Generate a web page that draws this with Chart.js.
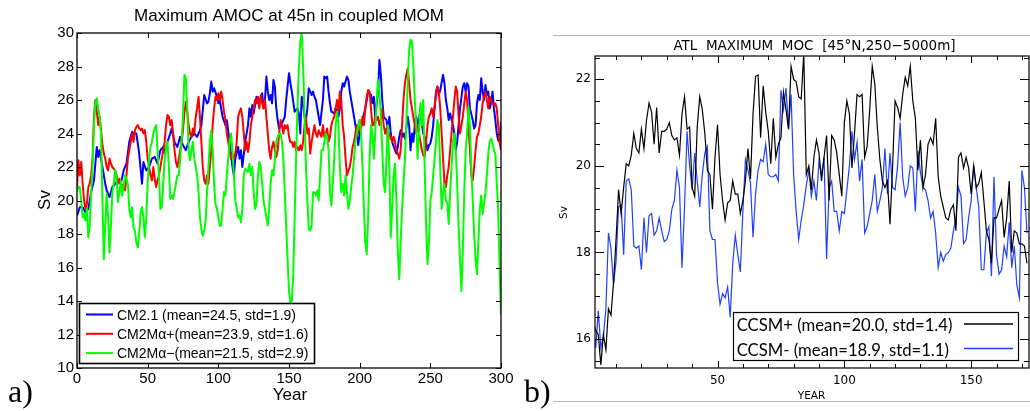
<!DOCTYPE html>
<html><head><meta charset="utf-8">
<script src="https://cdn.jsdelivr.net/npm/chart.js@4.4.1/dist/chart.umd.min.js"></script>
<style>
html,body{margin:0;padding:0;background:#fff}
body{width:1030px;height:411px;overflow:hidden;position:relative}
#wa{position:absolute;left:0;top:0;width:520px;height:411px}
#wb{position:absolute;left:520px;top:0;width:510px;height:411px}
.lab{position:absolute;font-family:"Liberation Serif","DejaVu Serif",serif;font-size:32px;line-height:32px;color:#000}
.hl{position:absolute;left:553px;width:477px;height:1px;background:#b9b9b9}
</style></head>
<body>
<div id="wa"><canvas id="ca" width="520" height="411"></canvas></div>
<div id="wb"><canvas id="cb" width="510" height="411"></canvas></div>
<div class="hl" style="top:35px"></div>
<div class="hl" style="top:401px"></div>
<div class="lab" style="left:8px;top:375px">a)</div>
<div class="lab" style="left:524px;top:375px">b)</div>
<script>
// ---------------- Panel a data ----------------
const titleA = 'Maximum AMOC at 45n in coupled MOM';
const xTitleA = 'Year', yTitleA = 'Sv';
const xTicksA = [0,50,100,150,200,250,300];
const yTicksA = [10,12,14,16,18,20,22,24,26,28,30];
const labelsA = ['CM2.1 (mean=24.5, std=1.9)','CM2M\u03b1+(mean=23.9, std=1.6)','CM2M\u03b1\u2212(mean=21.5, std=2.9)'];
// CM2.1 : [year, Sv]
const cm21 = [[0,19.1],[2,19.6],[4,19.6],[6,19.3],[8,19.5],[10,20.5],[12,21.2],[14,23.2],[15,22.6],[16,23.0],[18,22.0],[20,21.0],[21,20.6],[23,20.2],[25,20.8],[27,21.0],[29,21.2],[31,21.0],[33,21.8],[35,22.2],[37,23.5],[39,24.1],[40,24.0],[42,24.0],[44,22.8],[46,21.0],[47,22.3],[49,21.8],[51,22.0],[53,22.5],[55,22.6],[57,22.2],[59,23.0],[61,23.2],[62,22.8],[64,23.5],[66,24.0],[67,24.3],[69,23.5],[71,23.2],[73,23.8],[75,23.3],[77,23.0],[79,23.5],[81,23.8],[83,24.0],[85,23.8],[87,24.2],[88,24.5],[90,26.3],[92,25.8],[93,25.9],[94,26.4],[95,27.1],[96,26.5],[97,26.7],[99,26.2],[100,25.8],[101,26.0],[103,25.0],[105,24.5],[106,24.8],[108,23.5],[110,22.0],[111,21.5],[112,22.5],[114,23.2],[115,22.5],[116,23.0],[117,22.0],[119,23.5],[121,24.5],[122,25.5],[123,25.0],[124,25.7],[125,25.2],[127,26.2],[128,25.8],[130,26.0],[131,26.4],[132,25.5],[133,26.0],[134,27.4],[135,26.5],[136,26.0],[137,26.3],[138,25.8],[139,27.2],[140,26.8],[141,25.5],[142,24.8],[143,24.3],[145,24.6],[147,25.0],[148,26.0],[149,26.8],[150,27.6],[151,27.0],[152,26.5],[154,25.3],[156,25.5],[157,25.2],[158,24.0],[159,26.2],[160,25.8],[161,25.0],[162,24.8],[163,25.5],[164,26.7],[165,26.5],[166,26.3],[167,26.5],[168,26.2],[169,26.0],[171,25.0],[172,24.5],[174,26.0],[175,27.4],[176,27.3],[177,27.4],[178,26.5],[179,25.8],[180,25.3],[182,25.2],[183,25.5],[185,25.0],[186,25.5],[187,26.5],[188,27.0],[189,26.8],[191,27.4],[192,27.2],[193,26.5],[195,25.5],[197,24.5],[198,24.0],[199,23.3],[200,24.0],[202,24.8],[204,25.5],[205,26.0],[206,26.5],[208,26.3],[209,25.8],[210,26.2],[211,25.0],[212,25.8],[213,26.5],[214,28.4],[215,27.5],[216,26.0],[217,25.0],[219,24.8],[220,24.2],[221,25.0],[222,24.0],[223,23.5],[225,23.0],[226,22.8],[227,23.2],[228,23.8],[229,24.2],[230,23.8],[231,24.0],[232,23.7],[233,24.3],[234,25.0],[235,24.5],[236,23.0],[237,24.0],[238,23.5],[239,24.5],[240,25.0],[241,24.5],[242,24.8],[243,25.5],[244,24.6],[245,24.0],[247,23.5],[248,23.0],[249,23.3],[250,23.4],[251,23.8],[252,24.5],[253,25.5],[254,26.5],[255,26.8],[256,26.3],[257,26.6],[259,27.5],[260,27.0],[261,26.0],[262,25.5],[263,24.8],[264,25.2],[266,24.5],[267,24.0],[268,23.0],[269,23.5],[270,24.5],[271,25.5],[273,26.8],[274,27.0],[275,26.5],[276,27.0],[277,26.8],[278,25.5],[280,24.8],[281,24.3],[282,24.5],[283,25.8],[284,26.3],[285,26.0],[286,27.3],[287,26.5],[288,26.0],[289,26.9],[290,26.3],[291,26.5],[292,25.5],[293,25.8],[294,26.5],[295,25.5],[296,24.8],[297,24.0],[298,23.6],[299,23.5],[300,24.7]];
// annual years 0..300
const yearsA = Array.from({length:301}, (_, i) => i);
const cm2mPlus = [
20.8,22.4,21.5,22.3,21.0,20.0,19.5,19.8,20.8,21.0,
21.5,22.5,25.0,26.0,25.3,24.5,25.0,24.2,23.3,22.8,
22.5,22.0,21.8,22.5,22.2,22.0,21.9,21.8,21.5,21.0,
21.3,21.0,20.8,21.0,20.6,21.5,22.5,23.0,23.5,24.0,
23.5,24.2,24.4,24.5,24.3,24.2,24.3,24.0,24.2,23.5,
22.5,22.0,21.5,21.2,22.0,21.3,20.8,21.2,21.5,22.0,
22.5,23.0,23.5,24.5,25.1,25.0,24.5,24.8,24.0,23.0,
22.3,22.0,22.5,23.0,23.5,24.2,25.2,25.9,25.3,24.5,
24.0,23.8,24.3,24.0,25.0,25.5,26.2,25.0,23.5,22.0,
21.2,21.0,21.5,21.0,22.0,23.0,24.5,25.5,26.2,26.0,
26.4,26.0,26.5,26.0,25.3,24.8,24.0,23.5,23.0,22.5,
22.7,22.5,22.8,23.5,25.0,25.3,25.5,25.0,24.0,23.0,
23.5,22.9,23.5,24.5,25.0,25.5,26.0,25.8,26.2,25.5,
26.3,25.8,25.5,26.0,25.0,24.0,23.0,22.5,23.2,23.5,
23.0,22.6,23.0,24.0,24.8,24.5,24.0,24.5,24.3,24.5,
23.8,23.5,23.5,23.2,23.5,23.0,23.2,23.0,23.3,23.0,
23.5,24.5,25.0,24.0,24.3,22.8,23.5,24.0,24.5,24.0,
23.8,24.2,24.0,23.8,24.5,23.8,24.0,24.3,23.5,23.8,
24.5,24.8,25.0,25.5,26.0,25.3,26.5,26.0,24.5,23.8,
22.5,21.5,21.8,22.0,22.5,23.2,23.5,24.0,24.5,24.0,
24.8,24.3,25.0,24.5,25.5,26.2,26.6,26.5,25.5,24.5,
24.5,25.0,24.8,25.0,24.5,24.8,25.5,24.5,24.0,24.3,
23.5,24.0,23.8,23.5,23.8,23.5,23.0,22.8,22.5,23.0,
24.5,26.0,27.0,27.5,27.9,27.0,26.0,25.5,25.0,24.5,
24.0,24.5,24.0,23.5,23.0,22.7,22.6,23.5,24.5,25.0,
25.2,25.5,25.0,25.6,26.3,26.8,26.5,25.5,24.0,22.5,
21.0,20.8,21.5,22.0,23.0,24.0,25.0,26.0,26.8,26.5,
25.0,24.0,24.5,25.0,25.8,26.5,26.0,24.5,23.0,21.5,
21.2,22.0,23.0,23.8,24.0,24.5,25.0,25.8,26.2,26.5,
26.0,25.5,26.2,26.0,25.8,25.7,25.8,25.5,24.5,23.5,
23.0];
const cm2mMinus = [
20.6,20.8,20.8,20.0,19.0,19.2,18.8,19.5,17.8,18.5,
20.5,22.0,24.5,25.8,26.1,25.5,25.0,24.0,20.0,16.5,
18.5,20.4,19.0,16.9,18.5,20.5,21.0,21.8,21.3,19.9,
20.5,21.2,20.3,20.8,21.5,21.3,21.0,19.5,19.0,19.6,
18.3,18.2,17.5,17.2,18.0,19.3,19.6,19.0,17.8,19.0,
21.0,22.5,23.2,23.5,24.0,24.3,24.5,23.0,21.5,19.5,
19.6,21.0,22.5,23.2,23.5,22.0,20.1,20.3,20.1,20.5,
21.0,21.5,21.5,22.5,23.5,25.0,27.5,27.3,25.5,23.0,
22.4,23.0,23.5,22.5,22.0,21.5,20.5,19.0,18.3,17.9,
18.2,18.8,20.5,22.0,23.5,24.2,23.0,21.0,19.8,19.5,
19.0,18.5,18.5,19.5,20.5,20.3,21.5,22.5,23.5,24.0,
23.0,21.5,20.0,19.5,19.0,19.1,18.7,19.5,21.5,21.9,
21.8,21.7,22.2,21.5,22.0,20.5,19.5,19.8,21.5,22.3,
22.0,21.0,20.0,19.5,19.0,18.5,19.5,21.0,21.8,21.5,
22.5,23.5,23.8,24.0,24.0,23.5,22.5,20.5,18.5,16.5,
14.6,13.9,14.0,15.5,19.0,22.5,25.5,28.0,29.5,30.0,
28.0,25.0,22.0,20.0,18.3,18.2,18.5,20.5,20.5,20.3,
20.6,20.0,21.5,23.0,23.0,23.5,24.0,23.8,23.0,20.5,
19.7,21.0,22.5,24.5,25.3,24.5,22.0,20.5,21.0,20.3,
21.5,20.5,19.5,20.0,20.8,21.5,22.5,23.5,24.0,24.5,
24.8,24.0,22.0,19.5,17.5,16.8,19.0,22.5,24.5,24.0,
22.5,24.0,26.0,27.2,26.5,25.0,23.0,21.0,20.5,22.5,
24.5,22.0,17.8,19.5,21.5,22.2,20.0,17.0,15.3,17.5,
19.5,21.0,22.5,24.5,27.0,29.0,29.6,29.5,28.0,26.0,
24.5,22.5,24.0,25.8,24.5,26.0,22.0,18.5,16.2,17.5,
20.0,20.5,21.5,22.5,23.5,24.8,24.5,22.0,19.5,20.5,
21.0,20.0,19.8,18.6,20.5,22.0,23.5,24.0,23.0,21.0,
18.5,16.5,14.6,17.0,20.5,23.0,24.0,25.6,24.5,22.0,
20.0,18.0,16.5,15.6,17.5,19.5,20.3,19.2,19.8,20.5,
21.5,22.8,23.5,23.7,23.4,23.0,22.8,21.0,19.5,16.0,
13.2];

// ---------------- Panel b data ----------------
const titleB = 'ATL  MAXIMUM  MOC  [45\u00b0N,250\u22125000m]';
const xTitleB = 'YEAR', yTitleB = 'Sv';
const xTicksB = [50,100,150];
const xMinorB = [10,20,30,40,60,70,80,90,110,120,130,140,160,170];
const yTicksB = [16,18,20,22];
const yMinorB = [15.5,16.5,17,17.5,18.5,19,19.5,20.5,21,21.5,22.5];
const labelsB = ['CCSM+ (mean=20.0, std=1.4)','CCSM- (mean=18.9, std=1.1)'];
const yearsB = Array.from({length:172}, (_, i) => i + 1);
const ccsmPlus = [
16.4,16.2,16.1,15.4,16.1,15.75,16.7,16.55,17.3,18.3,
19.45,18.9,19.5,20.05,20.0,20.25,20.75,20.4,20.3,20.85,
20.4,21.05,21.45,21.25,20.5,21.35,20.3,20.8,20.8,20.85,
21.0,20.7,20.6,20.65,20.25,21.2,21.6,20.85,20.9,19.5,
19.3,20.9,21.6,21.3,20.75,19.9,19.8,19.0,20.2,20.95,
19.8,19.2,18.75,19.15,19.2,19.65,19.35,19.35,18.9,19.2,
19.65,20.4,19.7,21.2,22.07,22.1,20.65,21.85,21.25,20.8,
20.05,21.1,20.2,20.5,20.65,21.7,21.3,20.85,22.3,22.0,
21.95,21.6,21.55,22.6,19.8,20.0,19.45,20.2,20.6,20.3,
19.65,20.2,20.7,19.2,20.7,20.6,20.3,19.8,19.3,21.0,
21.5,21.2,19.95,20.75,21.65,21.6,21.65,20.2,20.45,21.3,
22.3,21.9,20.9,20.15,19.65,19.5,19.65,18.65,19.95,21.5,
21.35,21.1,21.65,22.05,21.85,22.3,21.5,21.1,19.9,20.6,
19.5,19.8,20.5,20.65,20.5,21.1,19.75,19.3,19.05,18.8,
18.75,19.0,19.1,18.5,20.2,20.3,19.95,20.2,19.95,19.35,
20.0,19.5,19.6,19.85,19.2,18.5,18.3,17.75,18.8,18.8,
19.0,19.2,18.35,18.8,19.65,18.0,18.5,18.45,18.2,18.2,
18.15,17.75];
const ccsmMinus = [
16.3,15.8,16.65,15.8,16.05,16.7,18.45,18.1,17.25,17.8,
19.05,19.1,17.95,19.65,19.7,19.45,18.15,18.1,18.15,17.6,
18.8,18.0,18.85,18.9,18.4,18.5,18.8,18.5,18.25,18.3,
18.5,19.0,19.2,19.9,19.5,17.65,19.05,20.8,20.0,19.45,
20.3,19.65,19.05,19.8,20.3,20.45,18.5,18.3,18.3,17.3,
16.8,17.05,16.95,17.2,16.5,17.75,18.4,17.95,17.55,18.95,
20.15,19.9,19.6,18.35,19.35,19.9,20.15,20.1,20.5,19.8,
19.75,19.75,19.8,19.65,21.75,21.3,21.8,20.85,21.65,19.8,
18.95,18.3,18.75,19.1,19.55,19.9,19.3,19.65,19.2,20.1,
19.8,20.2,17.85,19.5,19.65,18.95,18.95,18.5,18.95,18.9,
19.45,20.0,20.8,20.15,20.55,19.65,20.15,18.45,18.6,18.9,
19.2,19.8,18.95,19.2,19.5,20.4,19.35,20.3,19.5,19.45,
20.0,21.0,19.75,19.3,19.5,20.0,19.95,18.95,20.35,19.85,
19.5,19.45,19.2,18.8,18.95,18.45,17.65,18.0,17.8,17.95,
18.0,18.1,18.5,18.8,19.5,19.3,18.2,18.3,18.8,19.2,
20.0,19.5,19.05,17.6,17.6,18.45,18.6,17.45,19.75,17.95,
17.5,17.6,18.15,17.9,18.7,17.65,18.15,17.25,16.95,19.9,
19.5,18.45];

// ---------------- helpers ----------------
const toXY = (xs, ys) => xs.map((x, i) => ({x, y: ys[i]}));
function seg(ctx, x1, y1, x2, y2){ ctx.beginPath(); ctx.moveTo(x1, y1); ctx.lineTo(x2, y2); ctx.stroke(); }
const FA = '"Liberation Sans", Arial, Helvetica, sans-serif';
const FB = '"DejaVu Sans", Verdana, sans-serif';

// ---------------- Panel a ----------------
const plugA = {
  id: 'plugA',
  afterDraw(chart){
    const {ctx, chartArea: ca, scales: {x, y}} = chart;
    ctx.save();
    ctx.strokeStyle = '#000'; ctx.lineWidth = 1;
    xTicksA.forEach(v => { const p = Math.round(x.getPixelForValue(v)) + 0.5; seg(ctx, p, ca.bottom, p, ca.bottom - 5); seg(ctx, p, ca.top, p, ca.top + 5); });
    yTicksA.forEach(v => { const p = Math.round(y.getPixelForValue(v)) + 0.5; seg(ctx, ca.left, p, ca.left + 5, p); seg(ctx, ca.right, p, ca.right - 5, p); });
    ctx.lineWidth = 1.3;
    ctx.strokeRect(ca.left, ca.top, ca.right - ca.left, ca.bottom - ca.top);
    // legend
    const lx = ca.left + 2, ly = 303, lw = 236, lh = 61;
    ctx.fillStyle = '#fff'; ctx.fillRect(lx, ly, lw, lh);
    ctx.lineWidth = 1.6; ctx.strokeRect(lx + 0.5, ly + 0.5, lw - 1, lh - 1);
    ctx.font = '14px ' + FA; ctx.textAlign = 'left'; ctx.textBaseline = 'alphabetic';
    chart.data.datasets.forEach((ds, i) => {
      const yy = ly + 11.5 + i * 19.3;
      ctx.strokeStyle = ds.borderColor; ctx.lineWidth = 2;
      seg(ctx, lx + 7, yy, lx + 34, yy);
      ctx.fillStyle = '#000';
      ctx.fillText(ds.label, lx + 38, yy + 5);
    });
    // titles
    ctx.fillStyle = '#000'; ctx.textAlign = 'center';
    ctx.font = '17px ' + FA;
    ctx.fillText(titleA, (ca.left + ca.right) / 2, 21);
    ctx.fillText(xTitleA, (ca.left + ca.right) / 2 + 1, 400);
    ctx.translate(50, 200); ctx.rotate(-Math.PI / 2);
    ctx.fillText(yTitleA, 0, 0);
    ctx.restore();
  }
};

new Chart(document.getElementById('ca'), {
  type: 'line',
  data: { datasets: [
    { label: labelsA[0], data: cm21.map(p => ({x: p[0], y: p[1]})), borderColor: '#0000ff', borderWidth: 2, pointRadius: 0, order: 2, borderJoinStyle: 'round' },
    { label: labelsA[1], data: toXY(yearsA, cm2mPlus), borderColor: '#ff0000', borderWidth: 2, pointRadius: 0, order: 1, borderJoinStyle: 'round' },
    { label: labelsA[2], data: toXY(yearsA, cm2mMinus), borderColor: '#00ff00', borderWidth: 2, pointRadius: 0, order: 0, borderJoinStyle: 'round' }
  ]},
  options: {
    responsive: false, animation: false, events: [],
    layout: { padding: { left: 0, right: 19, top: 33, bottom: 0 } },
    plugins: { legend: { display: false }, tooltip: { enabled: false }, title: { display: false } },
    scales: {
      x: { type: 'linear', min: 0, max: 300,
        afterBuildTicks: s => { s.ticks = xTicksA.map(v => ({value: v})); },
        afterFit: s => { s.height = 43; s.paddingLeft = 0; s.paddingRight = 0; },
        grid: { display: false, drawTicks: false }, border: { display: false },
        ticks: { color: '#000', font: { family: FA, size: 15 }, padding: 2, maxRotation: 0, autoSkip: false } },
      y: { type: 'linear', min: 10, max: 30,
        afterBuildTicks: s => { s.ticks = yTicksA.map(v => ({value: v})); },
        afterFit: s => { s.width = 77; s.paddingTop = 0; s.paddingBottom = 0; },
        grid: { display: false, drawTicks: false }, border: { display: false },
        ticks: { color: '#000', font: { family: FA, size: 15 }, padding: 3, autoSkip: false } }
    }
  },
  plugins: [plugA]
});

// ---------------- Panel b ----------------
const plugB = {
  id: 'plugB',
  afterDraw(chart){
    const {ctx, chartArea: ca, scales: {x, y}} = chart;
    ctx.save();
    ctx.strokeStyle = '#000'; ctx.lineWidth = 1;
    const xt = (v, len) => { const p = Math.round(x.getPixelForValue(v)) + 0.5; seg(ctx, p, ca.bottom, p, ca.bottom - len); seg(ctx, p, ca.top, p, ca.top + len); };
    const yt = (v, len) => { const p = Math.round(y.getPixelForValue(v)) + 0.5; seg(ctx, ca.left, p, ca.left + len, p); seg(ctx, ca.right, p, ca.right - len, p); };
    xTicksB.forEach(v => xt(v, 7)); xMinorB.forEach(v => xt(v, 4));
    yTicksB.forEach(v => yt(v, 9)); yMinorB.forEach(v => yt(v, 5));
    ctx.lineWidth = 1.2;
    ctx.strokeRect(ca.left, ca.top, ca.right - ca.left, ca.bottom - ca.top);
    // legend
    const lx = 213.5, ly = 312.5, lw = 285, lh = 48;
    ctx.fillStyle = '#fff'; ctx.fillRect(lx, ly, lw, lh);
    ctx.lineWidth = 1.2; ctx.strokeRect(lx, ly, lw, lh);
    ctx.textAlign = 'left'; ctx.textBaseline = 'alphabetic';
    ctx.font = '18px Lato, "Open Sans", sans-serif';
    const fs = 18 * 216 / ctx.measureText(labelsB[0]).width;
    ctx.font = fs.toFixed(2) + 'px Lato, "Open Sans", sans-serif';
    chart.data.datasets.forEach((ds, i) => {
      const yy = ly + 11.5 + i * 24.5;
      ctx.fillStyle = '#000';
      ctx.fillText(ds.label, lx + 3.2, yy + 7);
      ctx.strokeStyle = ds.borderColor; ctx.lineWidth = 1.3;
      seg(ctx, lx + 230.5, yy, lx + 279.5, yy);
    });
    // titles
    ctx.fillStyle = '#000'; ctx.textAlign = 'center';
    ctx.font = '13.5px ' + FB;
    ctx.fillText(titleB, 294.5, 50);
    ctx.font = '10.5px ' + FB;
    ctx.fillText(xTitleB, 291.5, 399);
    ctx.translate(46.5, 212.5); ctx.rotate(-Math.PI / 2);
    ctx.fillText(yTitleB, 0, 0);
    ctx.restore();
  }
};

new Chart(document.getElementById('cb'), {
  type: 'line',
  data: { datasets: [
    { label: labelsB[0], data: toXY(yearsB, ccsmPlus), borderColor: '#000000', borderWidth: 1.2, pointRadius: 0 },
    { label: labelsB[1], data: toXY(yearsB, ccsmMinus), borderColor: '#2040ff', borderWidth: 1.2, pointRadius: 0 }
  ]},
  options: {
    responsive: false, animation: false, events: [],
    layout: { padding: { left: 0, right: 1, top: 56, bottom: 0 } },
    plugins: { legend: { display: false }, tooltip: { enabled: false }, title: { display: false } },
    scales: {
      x: { type: 'linear', min: 1.7, max: 172.8,
        afterBuildTicks: s => { s.ticks = xTicksB.map(v => ({value: v})); },
        afterFit: s => { s.height = 43; s.paddingLeft = 0; s.paddingRight = 0; },
        grid: { display: false, drawTicks: false }, border: { display: false },
        ticks: { color: '#000', font: { family: FB, size: 12 }, padding: 6, maxRotation: 0, autoSkip: false } },
      y: { type: 'linear', min: 15.33, max: 22.54,
        afterBuildTicks: s => { s.ticks = yTicksB.map(v => ({value: v})); },
        afterFit: s => { s.width = 75; s.paddingTop = 0; s.paddingBottom = 0; },
        grid: { display: false, drawTicks: false }, border: { display: false },
        ticks: { color: '#000', font: { family: FB, size: 12 }, padding: 4, autoSkip: false } }
    }
  },
  plugins: [plugB]
});
</script>
</body></html>
